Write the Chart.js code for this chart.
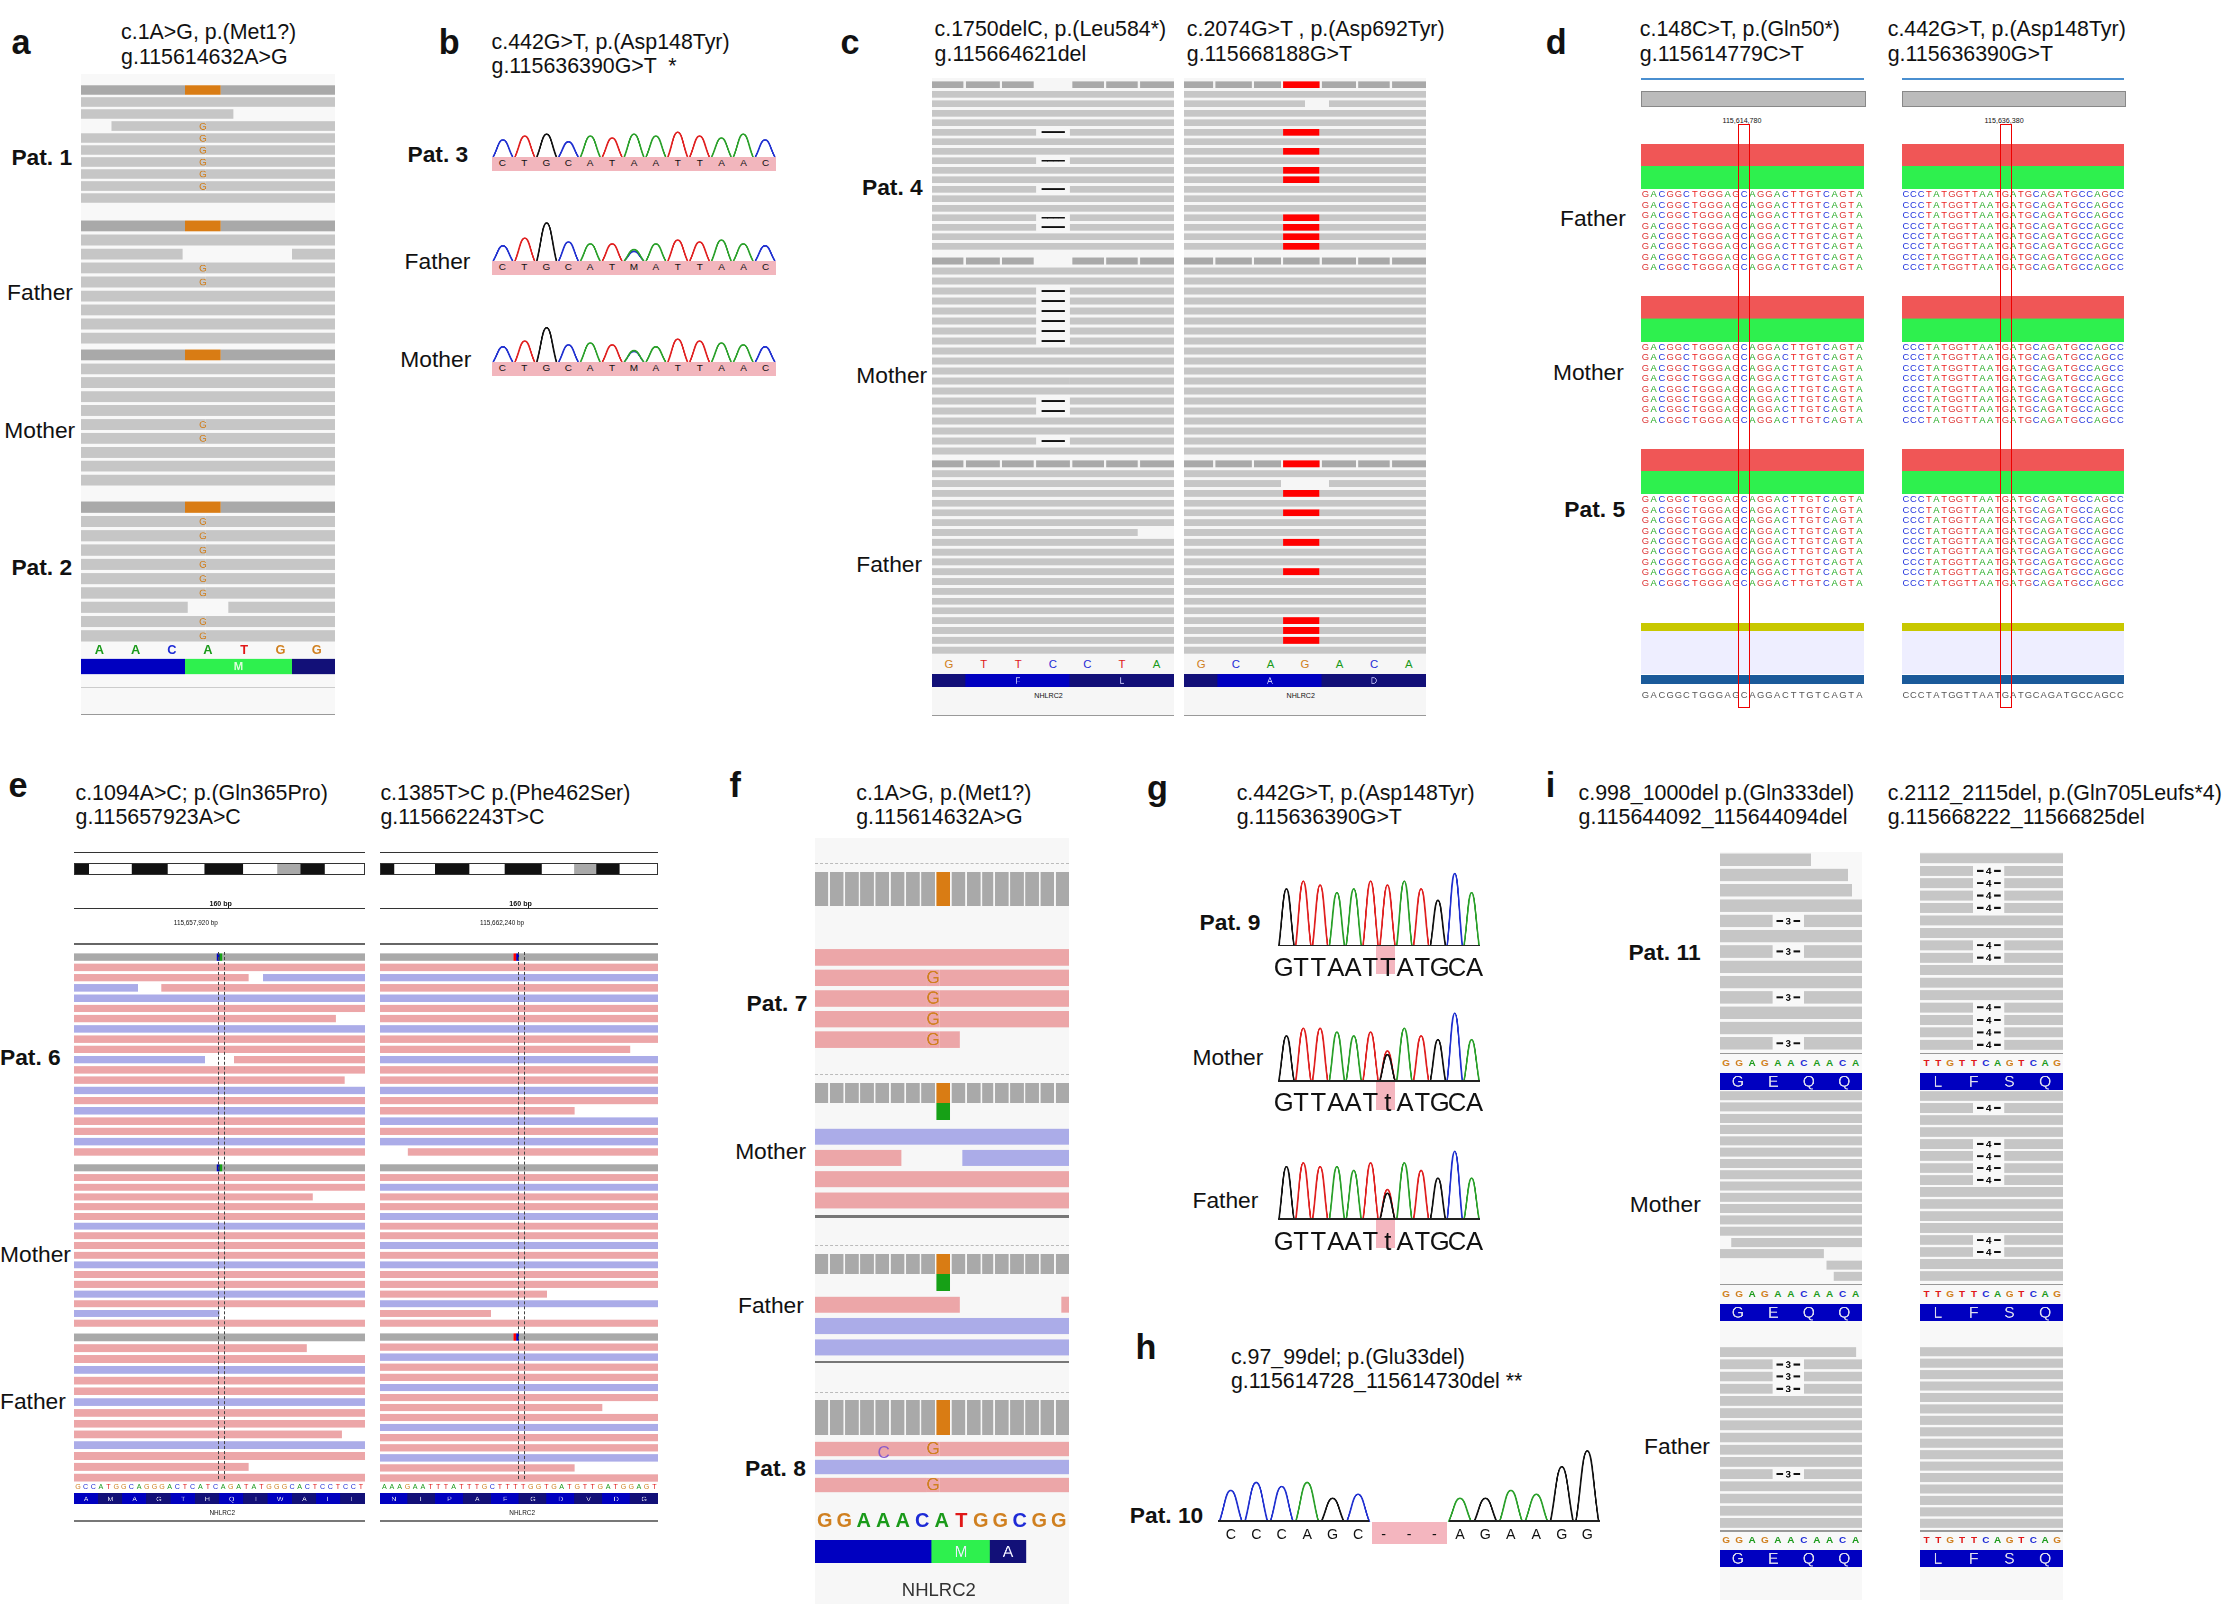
<!DOCTYPE html>
<html><head><meta charset="utf-8">
<script src="https://cdn.jsdelivr.net/npm/chart.js@4"></script>
<style>
body{margin:0;background:#fff}
#root{position:relative;width:1568px;height:1128px;zoom:1.4247;font-family:"Liberation Sans",Arial,sans-serif;color:#111}
.t{position:absolute;white-space:pre;line-height:1.15}
.box{position:absolute}
</style></head><body><div id="root"></div>
<script>
// ---------------- DATA ----------------
const panelLetters=[['a',8,16],['b',308,16],['c',590,16],['d',1085,16],['e',6,538],['f',512,538],['g',805,540],['h',797,932],['i',1085,538]];
const titles=[
 ['c.1A>G, p.(Met1?)\ng.115614632A>G',85,14],
 ['c.442G>T, p.(Asp148Tyr)\ng.115636390G>T  *',345,21],
 ['c.1750delC, p.(Leu584*)\ng.115664621del',656,12],
 ['c.2074G>T , p.(Asp692Tyr)\ng.115668188G>T',833,12],
 ['c.148C>T, p.(Gln50*)\ng.115614779C>T',1151,12],
 ['c.442G>T, p.(Asp148Tyr)\ng.115636390G>T',1325,12],
 ['c.1094A>C; p.(Gln365Pro)\ng.115657923A>C',53,548],
 ['c.1385T>C p.(Phe462Ser)\ng.115662243T>C',267,548],
 ['c.1A>G, p.(Met1?)\ng.115614632A>G',601,548],
 ['c.442G>T, p.(Asp148Tyr)\ng.115636390G>T',868,548],
 ['c.97_99del; p.(Glu33del)\ng.115614728_115614730del **',864,944],
 ['c.998_1000del p.(Gln333del)\ng.115644092_115644094del',1108,548],
 ['c.2112_2115del, p.(Gln705Leufs*4)\ng.115668222_11566825del',1325,548]];
const sampleLabels=[
 ['Pat. 1',8,110,1],['Father',5,205,0],['Mother',3,302,0],['Pat. 2',8,398,1],
 ['Pat. 3',286,108,1],['Father',284,183,0],['Mother',281,252,0],
 ['Pat. 4',605,131,1],['Mother',601,263,0],['Father',601,396,0],
 ['Father',1095,153,0],['Mother',1090,261,0],['Pat. 5',1098,357,1],
 ['Pat. 6',0,742,1],['Mother',0,880,0],['Father',0,983,0],
 ['Pat. 7',524,704,1],['Mother',516,808,0],['Father',518,916,0],['Pat. 8',523,1030,1],
 ['Pat. 9',842,647,1],['Mother',837,742,0],['Father',837,842,0],['Pat. 10',793,1063,1],
 ['Pat. 11',1143,668,1],['Mother',1144,845,0],['Father',1154,1015,0]];

// read rows: each row = list of segments [start,end,colour,text]
const F=[[0,100]], P=[[0,100,'p']], B=[[0,100,'b']];
const aPat1=[[[0,41,'cov'],[41,55,'o'],[55,100,'cov']],[[0,100]],[[0,60]],[[12,47],[47,49,'x','G'],[49,100]],[[0,47],[47,49,'x','G'],[49,100]],[[0,47],[47,49,'x','G'],[49,100]],[[0,47],[47,49,'x','G'],[49,100]],[[0,47],[47,49,'x','G'],[49,100]],[[0,47],[47,49,'x','G'],[49,100]],[[0,100]]];
const aFather=[[[0,41,'cov'],[41,55,'o'],[55,100,'cov']],[[0,100]],[[0,40],[83,100]],[[0,47],[47,49,'x','G'],[49,100]],[[0,47],[47,49,'x','G'],[49,100]],[[0,100]],[[0,100]],[[0,100]],[[0,100]]];
const aMother=[[[0,41,'cov'],[41,55,'o'],[55,100,'cov']],[[0,100]],[[0,100]],[[0,100]],[[0,100]],[[0,47],[47,49,'x','G'],[49,100]],[[0,47],[47,49,'x','G'],[49,100]],[[0,100]],[[0,100]],[[0,100]]];
const aPat2=[[[0,41,'cov'],[41,55,'o'],[55,100,'cov']],[[0,47],[47,49,'x','G'],[49,100]],[[0,47],[47,49,'x','G'],[49,100]],[[0,47],[47,49,'x','G'],[49,100]],[[0,47],[47,49,'x','G'],[49,100]],[[0,47],[47,49,'x','G'],[49,100]],[[0,47],[47,49,'x','G'],[49,100]],[[0,42],[58,100]],[[0,47],[47,49,'x','G'],[49,100]],[[0,47],[47,49,'x','G'],[49,100]]];
const aBar=[[[0,41,'bl'],[41,83,'g2','M'],[83,100,'nv']]];
const aSeq='AACATGG';

const Dl=[[0,43],[43,57,'w','━━━━'],[57,100]];
const cov7=[[0,13,'cov'],[14,28,'cov'],[29,42,'cov'],[43,57,'w'],[58,71,'cov'],[72,85,'cov'],[86,100,'cov']];
const cLeft1=[cov7,F,F,F,F,Dl,F,F,Dl,F,F,Dl,F,F,Dl,Dl,F,F];
const cLeft2=[cov7,F,F,Dl,Dl,Dl,Dl,Dl,Dl,F,F,F,[[0,57],[57,100]],F,Dl,Dl,F,F,Dl,F];
const cLeft3=[[[0,13,'cov'],[14,28,'cov'],[29,42,'cov'],[43,57,'cov'],[58,71,'cov'],[72,85,'cov'],[86,100,'cov']],F,F,F,F,F,F,[[0,85]],F,F,F,F,F,F,F,F,F,F,F,F];
const Rd=[[0,41],[41,56,'r'],[56,100]];
const covR=[[0,12,'cov'],[13,28,'cov'],[29,40,'cov'],[41,56,'rr'],[57,71,'cov'],[72,85,'cov'],[86,100,'cov']];
const cRight1=[covR,F,[[0,50],[60,100]],F,F,Rd,F,Rd,F,Rd,Rd,F,F,F,Rd,Rd,Rd,Rd];
const cRight2=[[[0,12,'cov'],[13,28,'cov'],[29,40,'cov'],[41,56,'cov'],[57,71,'cov'],[72,85,'cov'],[86,100,'cov']],F,F,F,F,F,F,F,F,F,F,F,F,F,F,F,F,F,F,F];
const cRight3=[covR,F,[[0,40],[60,100]],Rd,F,Rd,F,F,Rd,F,F,Rd,F,F,F,F,Rd,Rd,Rd,F];
const cSeqL='GTTCCTA', cSeqR='GCAGACA';

const dBand=[[[0,100,'rr2']],[[0,100,'g2']]];
const dSeqL='GACGGCTGGGAGCAGGACTTGTCAGTA', dSeqR='CCCTATGGTTAATGATGCAGATGCCAGCC';

const eCovL=[[0,49,'cov'],[49,50,'bl'],[50,51,'gr'],[51,100,'cov']];
const ePat6L=[eCovL,P,[[0,60,'p'],[65,100,'b']],[[0,22,'b'],[30,100,'p']],B,P,[[0,90,'p']],B,P,P,[[0,45,'b'],[55,100,'p']],P,[[0,93,'p']],B,P,B,P,P,B,P];
const eMotL=[eCovL,P,P,[[0,82,'p']],P,P,B,P,P,P,B,P,P,B,P,[[0,50,'b']],P];
const eFatL=[[[0,100,'cov']],[[0,80,'p']],P,B,P,P,B,P,P,[[0,92,'p']],B,P,[[0,60,'p']],P];
const eCovR=[[0,48,'cov'],[48,49,'r'],[49,50,'bl'],[50,100,'cov']];
const ePat6R=[eCovR,P,[[0,100,'b']],P,B,P,P,B,P,[[0,90,'p']],B,P,P,B,P,[[0,70,'p']],B,P,B,[[10,100,'p']]];
const eMotR=[[[0,100,'cov']],P,B,P,P,B,P,P,B,P,B,P,P,[[0,60,'p']],B,[[0,40,'p']],P];
const eFatR=[eCovR,P,B,P,P,B,P,[[0,80,'p']],P,B,P,P,B,[[0,70,'p']],P];
const eSeqL='GCCATGGCAGGGACTCATCAGATATGGGCACTCCTCCT', eSeqR='AAAGAATTTATTTGCTTTTGGTGATGTTGATGGAGT';
const eAaL='AMAGTHQIWALL', eAaR='NLPAFGDVDG';

const fCov1=[[0,5,'cov'],[6,11,'cov'],[12,17,'cov'],[18,23,'cov'],[24,29,'cov'],[30,35,'cov'],[36,41,'cov'],[42,47,'cov'],[48,53,'cov'],[54,59,'cov'],[60,65,'cov'],[66,70,'cov'],[71,76,'cov'],[77,82,'cov'],[83,88,'cov'],[89,94,'cov'],[95,100,'cov']];
const fPat7=[[[0,100,'p']],[[0,44,'p'],[44,49,'p','G'],[49,100,'p']],[[0,44,'p'],[44,49,'p','G'],[49,100,'p']],[[0,44,'p'],[44,49,'p','G'],[49,100,'p']],[[0,44,'p'],[44,49,'p','G'],[49,57,'p']]];
const fMother=[B,[[0,34,'p'],[58,100,'b']],P,[[0,100,'p']]];
const fFather=[[[0,57,'p'],[97,100,'p']],B,B];
const fPat8=[[[0,44,'p'],[44,49,'p','G'],[49,100,'p']],[[0,100,'b']],[[0,44,'p'],[44,49,'p','G'],[49,100,'p']]];
const fSeq='GGAAACATGGCGG';
const fBar=[[[0,46,'bl'],[46,69,'g2','M'],[69,83,'nv','A'],[83,100,'w']]];

const T3=[[0,37],[37,59,'w','━ 3 ━'],[59,100]];
const T4=[[0,37],[37,59,'w','━ 4 ━'],[59,100]];
const iL1=[[[0,64]],[[0,90]],[[0,93]],F,T3,F,T3,F,F,T3,F,F,T3];
const iR1=[F,T4,T4,T4,T4,F,F,T4,T4,F,F,F,T4,T4,T4,T4];
const iL2=[F,F,F,F,F,F,F,F,F,F,F,F,F,[[8,100]],[[0,73]],[[75,100]],[[80,100]]];
const iR2=[F,T4,F,F,T4,T4,T4,T4,F,F,F,F,T4,T4,F,F];
const iL3=[[[0,96]],T3,T3,T3,F,F,F,F,F,F,T3,F,F,F,F];
const iR3=[F,F,F,F,F,F,F,F,F,F,F,F,F,F,F,F];
const iSeqL='GGAGAACAACA', iSeqR='TTGTTCAGTCAG', iAaL='GEQQ', iAaR='LFSQ';

// chromatograms: sequence + peak heights (+ secondary peaks [pos,base,height])
const bSeq='CTGCATAATTAAC', bSeqF='CTGCATMATTAAC';
const bPat3=[45,55,60,40,55,50,60,55,65,55,50,60,45];
const bFather=[40,60,100,50,45,45,30,45,55,50,55,45,40];
const bFatherExtra=[[6,'C',25]];
const bMother=[40,55,90,45,50,45,30,40,60,55,50,45,40];
const bMotherExtra=[[6,'C',28]];
const gSeq='GTTAATTATGCA', gSeqH='GTTAATtATGCA';
const gPat9=[75,85,80,70,75,85,80,85,75,60,95,70];
const gMother=[60,70,70,65,60,65,40,70,60,55,90,55];
const gMotherExtra=[[6,'G',35]];
const gFather=[70,75,70,70,65,75,40,75,65,55,90,55];
const gFatherExtra=[[6,'G',35]];
const hSeq='CCCAGC---AGAAGG';
const hPeaks=[40,50,45,50,30,35,0,0,0,30,30,40,35,70,90];

// ---------------- HELPERS ----------------
const root=document.getElementById('root');
const COL={cov:'#a9a9a9',x:'#c6c6c6',undefined:'#c6c6c6',p:'#eca6a8',b:'#abace8',o:'#d97c14',gr:'#16a016',r:'#ff0000',rr:'#ff0000',rr2:'#f05656',g2:'#2ef04e',k:'#111',bl:'#0000c0',nv:'#121078',w:'rgba(0,0,0,0)'};
const BASE={A:'#1a9a1a',C:'#1e2bd6',G:'#d08020',T:'#e01818',M:'#777',t:'#111','-':'#111'};
const TRACE={A:'#2aa02a',C:'#2030d0',G:'#111',T:'#e02020'};
function txt(s,x,y,size,extra){const d=document.createElement('div');d.className='t';d.textContent=s;d.style.left=x+'px';d.style.top=y+'px';d.style.fontSize=size+'px';if(extra)Object.assign(d.style,extra);root.appendChild(d);return d;}
function box(x,y,w,h,st){const d=document.createElement('div');d.className='box';Object.assign(d.style,{left:x+'px',top:y+'px',width:w+'px',height:h+'px'},st||{});root.appendChild(d);return d;}
function canvas(x,y,w,h){const c=document.createElement('canvas');c.width=w;c.height=h;c.style.position='absolute';c.style.left=x+'px';c.style.top=y+'px';root.appendChild(c);return c;}
const textPlugin={id:'segtext',afterDatasetsDraw(ch,a,o){const ctx=ch.ctx;ch.data.datasets.forEach((ds,di)=>{const meta=ch.getDatasetMeta(di);meta.data.forEach((el,i)=>{const r=ds.data[i];if(!r||!r.t)return;ctx.save();ctx.font=(o.bold?'bold ':'')+o.fs+'px "Liberation Sans",Arial';ctx.fillStyle=r.t.includes('━')?(o.lc||'#111'):(o.tc||'#fff');ctx.textAlign='center';ctx.textBaseline='middle';ctx.fillText(r.t,(el.x+el.base)/2,el.y+0.5);ctx.restore();});});}};
function readChart(x,y,w,h,rows,o){o=o||{};const data=[];rows.forEach((row,i)=>row.forEach(s=>data.push({x:[s[0],s[1]],y:i,c:s[2],t:s[3]})));
 new Chart(canvas(x,y,w,h),{type:'bar',data:{labels:rows.map((_,i)=>i),datasets:[{data,backgroundColor:c=>c.raw?COL[c.raw.c]:'#ccc',barPercentage:o.bp||0.78,categoryPercentage:1,grouped:false}]},
 options:{indexAxis:'y',responsive:false,animation:false,devicePixelRatio:3,layout:{padding:0},plugins:{legend:{display:false},tooltip:{enabled:false},segtext:{fs:o.fs||7,tc:o.tc||'#d08020',bold:o.bold,lc:o.lc}},
 scales:{x:{type:'linear',min:0,max:100,display:false},y:{display:false}}},plugins:[textPlugin]});}
function seqRow(s,x,y,w,size,colors,bold){const n=s.length;for(let i=0;i<n;i++){const ch=s[i];txt(ch,x+(i+0.5)*w/n,y,size,{color:(colors||BASE)[ch]||'#111',transform:'translateX(-50%)',fontWeight:bold?'bold':'normal'});}}
function chrom(x,y,w,h,seq,hts,extra){const ds={A:[],C:[],G:[],T:[]};
 seq.split('').forEach((b,i)=>{const base=ds[b]?b:(b==='M'?'A':(b==='t'?'T':null));if(!base||!hts[i])return;ds[base].push({x:i+0.05,y:0},{x:i+0.5,y:hts[i]},{x:i+0.95,y:0},{x:i+0.95,y:null});});
 (extra||[]).forEach(e=>ds[e[1]].push({x:e[0]+0.05,y:0},{x:e[0]+0.5,y:e[2]},{x:e[0]+0.95,y:0},{x:e[0]+0.95,y:null}));
 new Chart(canvas(x,y,w,h),{type:'line',data:{datasets:Object.keys(ds).map(k=>({data:ds[k],borderColor:TRACE[k],borderWidth:1.2,pointRadius:0,tension:0.45,spanGaps:false,fill:false}))},
 options:{responsive:false,animation:false,devicePixelRatio:3,layout:{padding:0},plugins:{legend:{display:false},tooltip:{enabled:false}},scales:{x:{type:'linear',min:0,max:seq.length,display:false},y:{min:0,max:105,display:false}}}});}

// ---------------- TEXT ----------------
panelLetters.forEach(p=>txt(p[0],p[1],p[2],24,{fontWeight:'bold'}));
titles.forEach(t=>txt(t[0],t[1],t[2],15));
sampleLabels.forEach(l=>txt(l[0],l[1],l[2]-9,16,{fontWeight:l[3]?'bold':'normal'}));

// ---------------- a ----------------
box(57,52,178,449,{background:'#f8f8f8',borderBottom:'1px solid #999'});
readChart(57,59,178,84,aPat1);
readChart(57,154,178,88,aFather);
readChart(57,244,178,98,aMother);
readChart(57,351,178,100,aPat2);
seqRow(aSeq,57,451,178,9,null,true);
readChart(57,462,178,12,aBar,{bp:0.9,tc:'#dfd',fs:8,bold:true});
box(57,482,178,1,{background:'#ccc'});

// ---------------- b ----------------
[[bSeq,bPat3,null,82],[bSeqF,bFather,bFatherExtra,155],[bSeqF,bMother,bMotherExtra,226]].forEach(([s,hh,ex,yy])=>{
 chrom(345,yy,200,28,s,hh,ex);box(345,yy+28,200,10,{background:'#f2b6bd'});seqRow(s,345,yy+28,200,7,{},false);});

// ---------------- c ----------------
[[654,cLeft1,cLeft2,cLeft3,cSeqL,'F','L'],[831,cRight1,cRight2,cRight3,cSeqR,'A','D']].forEach(([x,b1,b2,b3,sq,a1,a2])=>{
 box(x,55,170,447,{background:'#f6f6f6',borderBottom:'1px solid #999'});
 readChart(x,56,170,120,b1,{bp:0.7,fs:7});readChart(x,180,170,140,b2,{bp:0.7,fs:7});readChart(x,322,170,138,b3,{bp:0.7,fs:7});
 seqRow(sq,x,462,170,8,null,false);
 readChart(x,473,170,9,[[[0,14,'nv'],[14,57,'bl',a1],[57,100,'nv',a2]]],{bp:1,tc:'#ccf',fs:6});
 txt('NHLRC2',x+72,486,5);});

// ---------------- d ----------------
[[1152,dSeqL,'115,614,780',1224],[1335,dSeqR,'115,636,380',1408]].forEach(([x,sq,pos,rx])=>{
 box(x,55,156,1,{background:'#4a8fd0'});
 box(x,64,156,10,{background:'#bbb',border:'1px solid #888'});
 txt(pos,rx-15,82,5);
 [[101,8],[208,8],[315,9]].forEach(([yy,n])=>{readChart(x,yy,156,32,dBand,{bp:1});
   for(let k=0;k<n;k++)seqRow(sq,x,yy+32+k*7.3,156,6.6,{A:'#22aa22',C:'#2233dd',G:'#dd3333',T:'#ee2222'},false);});
 box(x,437,156,6,{background:'#c8c800'});box(x,443,156,30,{background:'#eef'});
 box(x,474,156,6,{background:'#1a5a9a'});
 seqRow(sq,x,484,156,6.6,{A:'#555',C:'#555',G:'#555',T:'#555'},false);
 box(rx-4,87,8,410,{border:'1.2px solid #e00',boxSizing:'border-box'});});

// ---------------- e ----------------
[[52,204,ePat6L,eMotL,eFatL,eSeqL,eAaL,'115,657,920 bp'],[267,195,ePat6R,eMotR,eFatR,eSeqR,eAaR,'115,662,240 bp']].forEach(([x,w,b1,b2,b3,sq,aa,pos])=>{
 box(x,598,w,1,{background:'#333'});
 readChart(x,606,w,8,[[[0,5,'k'],[5,20,'w'],[20,32,'k'],[32,45,'w'],[45,58,'k'],[58,70,'w'],[70,78,'cov'],[78,86,'k'],[86,100,'w']]],{bp:1});
 box(x,606,w,8,{border:'1px solid #333',boxSizing:'border-box'});
 txt('160 bp',x+w/2-7,632,5,{fontWeight:'bold'});box(x,637,w,1,{background:'#333'});
 txt(pos,x+70,645,4.5);
 box(x,662,w,1,{background:'#666'});
 readChart(x,668,w,144,b1,{bp:0.72});readChart(x,816,w,116,b2,{bp:0.72});readChart(x,935,w,106,b3,{bp:0.72});
 box(x+w/2-1,668,1,370,{borderLeft:'1px dashed #444'});box(x+w/2+3,668,1,370,{borderLeft:'1px dashed #444'});
 seqRow(sq,x,1041,w,5,null,false);
 readChart(x,1048,w,8,[aa.split('').map((c,i,a)=>[i*100/a.length,(i+1)*100/a.length,i%2?'nv':'bl',c])],{bp:1,tc:'#dde',fs:5});
 txt('NHLRC2',x+w/2-7,1059,4.5);box(x,1067,w,1,{background:'#777'});});

// ---------------- f ----------------
box(572,588,178,538,{background:'#f7f7f7'});
[[612,'o',null],[760,'o','gr'],[880,'o','gr'],[983,'o',null]].forEach(([yy,c1,c2])=>{
 const row=fCov1.map(s=>s.slice());row[8]=[48,53,c2?'o':c1];
 readChart(572,yy,178,c2?14:24,[row],{bp:1});
 if(c2)readChart(572,yy+14,178,12,[[[48,53,c2]]],{bp:1});
 box(572,yy-6,178,1,{borderTop:'1px dashed #bbb'});});
readChart(572,665,178,72,fPat7,{bp:0.8,fs:12});
readChart(572,790,178,60,fMother,{bp:0.75,fs:12});
box(572,853,178,2,{background:'#777'});
readChart(572,908,178,45,fFather,{bp:0.75,fs:12});
box(572,955,178,2,{background:'#777'});
readChart(572,1011,178,38,fPat8,{bp:0.8,fs:12});
txt('C',616,1013,12,{color:'#8a5ac8'});
seqRow(fSeq,572,1059,178,14,null,true);
readChart(572,1081,178,16,fBar,{bp:1,tc:'#eef',fs:11});
txt('NHLRC2',633,1108,13,{color:'#333'});

// ---------------- g / h ----------------
[[608,gPat9,null,gSeq],[703,gMother,gMotherExtra,gSeqH],[800,gFather,gFatherExtra,gSeqH]].forEach(([yy,hh,ex,s])=>{
 box(966,yy+56,13,20,{background:'#f4b6bf'});
 chrom(897,yy,142,56,gSeq,hh,ex);
 box(897,yy+55,142,1.2,{background:'#222'});
 seqRow(s,895,yy+61,146,18,{},false);});
box(963,1068,53,16,{background:'#f4b6bf'});
chrom(855,1010,268,58,hSeq,hPeaks,null);
box(855,1067,106,1,{background:'#222'});box(1017,1067,106,1,{background:'#222'});
seqRow(hSeq,855,1071,268,10,{},false);

// ---------------- i ----------------
[[1207,iL1,iL2,iL3,iSeqL,iAaL],[1348,iR1,iR2,iR3,iSeqR,iAaR]].forEach(([x,b1,b2,b3,sq,aa])=>{
 [[598,b1,140],[765,b2,135],[945,b3,128]].forEach(([yy,b,hh])=>{
  box(x,yy,100,hh+50,{background:'#f8f8f8'});
  readChart(x,yy,100,hh,b,{bp:0.8,fs:7,tc:'#6a2bd8',bold:true});
  box(x,yy+hh+1,100,1,{background:'#999'});
  seqRow(sq,x,yy+hh+4,100,7,null,true);
  readChart(x,yy+hh+15,100,12,[aa.split('').map((c,i)=>[i*25,(i+1)*25,'bl',c])],{bp:1,tc:'#dde',fs:11});});});
</script></body></html>
